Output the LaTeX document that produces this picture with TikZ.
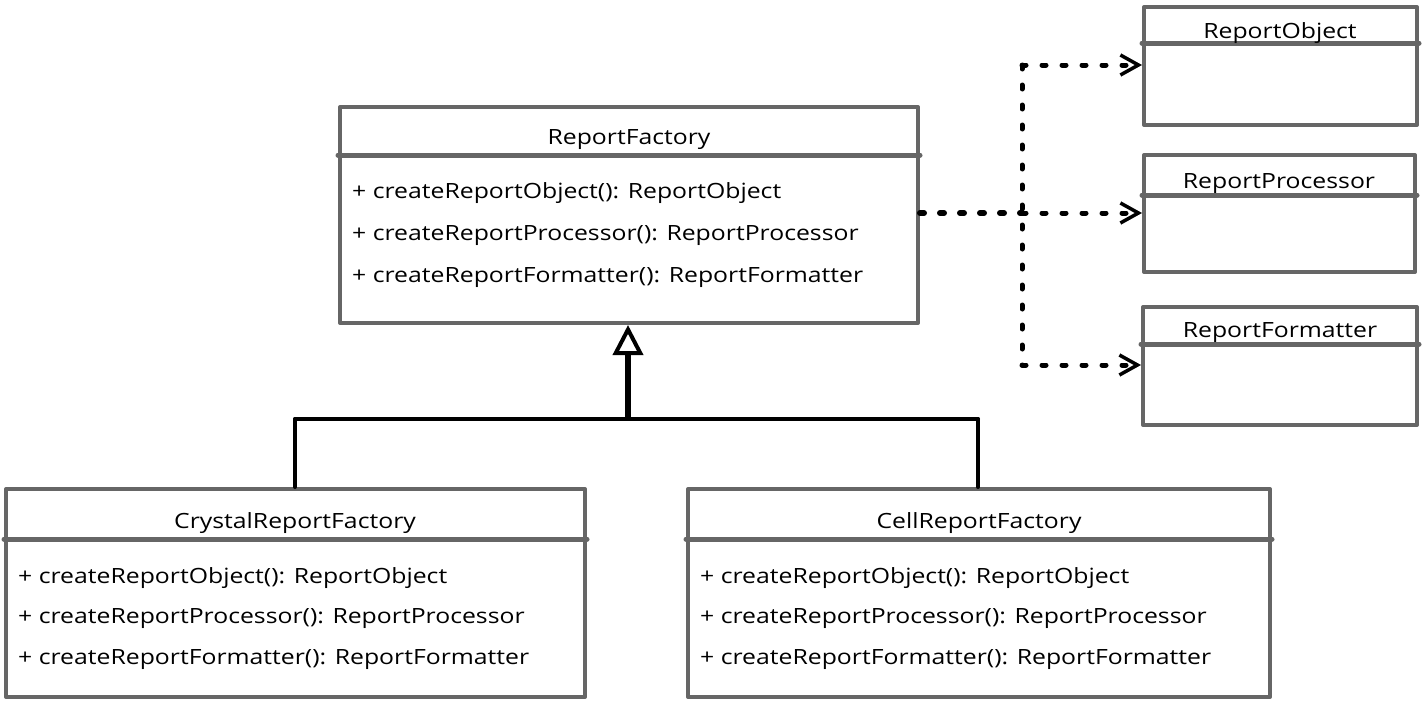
\documentclass[tikz,border=0pt]{standalone}
\usepackage{fontspec}
\setmainfont{Open Sans}[FakeStretch=1.18]
\usetikzlibrary{arrows.meta}
\definecolor{boxgray}{HTML}{666666}
\begin{document}
\begin{tikzpicture}[x=1pt,y=-1pt,
  cls/.style={draw=boxgray, line width=4pt, rectangle, inner sep=0pt, line join=round},
  divider/.style={draw=boxgray, line width=5pt, line cap=round},
  title/.style={font=\fontsize{21}{24}\selectfont, inner sep=0pt, yshift=-3pt},
  member/.style={font=\fontsize{21}{24}\selectfont, inner sep=0pt, anchor=west, yshift=-3pt},
  dep/.style={line width=5pt, dash pattern=on 4pt off 16pt, line cap=round},
  deparrow/.style={dep, -{Straight Barb[length=18pt,width=20pt,line width=3.5pt]}},
  gen/.style={line width=4pt, line cap=round}
]
\useasboundingbox (0,0) rectangle (1422,704);
\fill[white] (0,0) rectangle (1422,704);

% ReportFactory
\node[cls, minimum width=578pt, minimum height=216pt] (rf) at (629,215) {};
\draw[divider] ([yshift=-50pt]rf.north west) -- ([yshift=-50pt]rf.north east);
\node[title] (rft) at (629,137) {ReportFactory};
\node[member] (rf1) at (352,190) {+ createReportObject(): ReportObject};
\node[member] (rf2) at (352,233) {+ createReportProcessor(): ReportProcessor};
\node[member] (rf3) at (352,275) {+ createReportFormatter(): ReportFormatter};

% CrystalReportFactory
\node[cls, minimum width=579pt, minimum height=208pt] (crf) at (295.5,593) {};
\draw[divider] ([yshift=-52pt]crf.north west) -- ([yshift=-52pt]crf.north east);
\node[title] (crft) at (295,520) {CrystalReportFactory};
\node[member] (crf1) at (18,575) {+ createReportObject(): ReportObject};
\node[member] (crf2) at (18,616) {+ createReportProcessor(): ReportProcessor};
\node[member] (crf3) at (18,657) {+ createReportFormatter(): ReportFormatter};

% CellReportFactory
\node[cls, minimum width=582pt, minimum height=208pt] (cel) at (979,593) {};
\draw[divider] ([yshift=-52pt]cel.north west) -- ([yshift=-52pt]cel.north east);
\node[title] (celt) at (979,520) {CellReportFactory};
\node[member] (cel1) at (700,575) {+ createReportObject(): ReportObject};
\node[member] (cel2) at (700,616) {+ createReportProcessor(): ReportProcessor};
\node[member] (cel3) at (700,657) {+ createReportFormatter(): ReportFormatter};

% ReportObject
\node[cls, minimum width=273pt, minimum height=118pt] (ro) at (1280.5,66) {};
\draw[divider] ([yshift=-38pt]ro.north west) -- ([yshift=-38pt]ro.north east);
\node[title] (rot) at (1280,30) {ReportObject};

% ReportProcessor
\node[cls, minimum width=271pt, minimum height=117pt] (rp) at (1279.5,213.5) {};
\draw[divider] ([yshift=-42pt]rp.north west) -- ([yshift=-42pt]rp.north east);
\node[title] (rpt) at (1279,181) {ReportProcessor};

% ReportFormatter
\node[cls, minimum width=274pt, minimum height=118pt] (rfm) at (1280,366) {};
\draw[divider] ([yshift=-39pt]rfm.north west) -- ([yshift=-39pt]rfm.north east);
\node[title] (rfmt) at (1280,330) {ReportFormatter};

% dependency connectors
\coordinate (j) at (1022,213);
\coordinate (jt) at (1022,65);
\coordinate (jb) at (1022,365);
\draw[dep, line width=6pt] (rf.east |- j) -- (j);
\draw[dep] (jt) -- (jb);
\draw[deparrow] (jt) -- (ro.west |- jt);
\draw[deparrow] (j) -- (rp.west |- j);
\draw[deparrow] (jb) -- (rfm.west |- jb);

% generalization
\coordinate (g) at (628,419);
\coordinate (gl) at (295,419);
\coordinate (gr) at (978,419);
\draw[gen] (gl) -- (gr);
\draw[gen] (gl) -- (crf.north -| gl);
\draw[gen] (gr) -- (cel.north -| gr);
\draw[line width=6pt, -{Triangle[open, length=30pt, width=30pt, line width=4pt]}] (g) -- (rf.south -| g);
\end{tikzpicture}
\end{document}
